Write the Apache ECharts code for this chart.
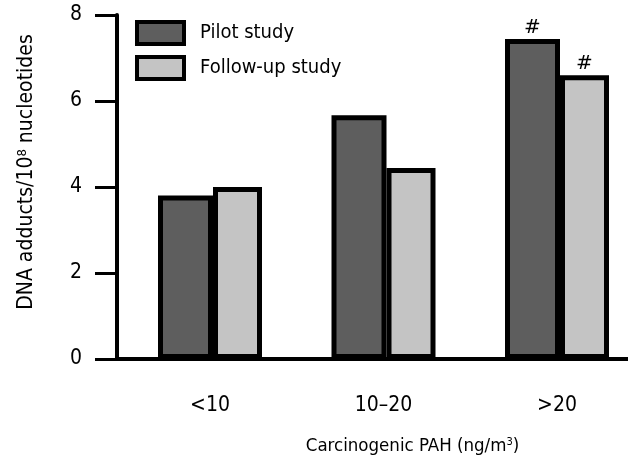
<!DOCTYPE html>
<html>
<head>
<meta charset="utf-8">
<script src="https://cdn.jsdelivr.net/npm/echarts@6/dist/echarts.min.js"></script>
<style>html,body{margin:0;padding:0;background:#fff}#c{width:628px;height:461px}</style>
</head>
<body>
<div id="c"></div>
<script>
var categories = ['<10', '10\u201320', '>20'];
var pilotStudy = [3.8, 5.67, 7.44];
var followUpStudy = [4.0, 4.44, 6.6];
var significanceMarks = ['', '', '#'];
var yTicks = [0, 2, 4, 6, 8];

var FONT = '"Liberation Sans Narrow", "DejaVu Sans Condensed", "Liberation Sans", sans-serif';

var chart = echarts.init(document.getElementById('c'));
function markLabel(p) { return significanceMarks[p.dataIndex]; }
chart.setOption({
  animation: false,
  backgroundColor: '#ffffff',
  textStyle: { fontFamily: FONT, color: '#000' },
  legend: {
    orient: 'vertical', left: 130, top: 15,
    itemWidth: 47, itemHeight: 22, itemGap: 9,
    icon: 'rect',
    itemStyle: { borderWidth: 4 },
    textStyle: { fontFamily: FONT, fontSize: 20, color: '#000', padding: [0, 0, 0, 11] },
    data: ['Pilot study', 'Follow-up study']
  },
  grid: [
    { left: 123.25, width: 520.5, top: 15, bottom: 102, outerBoundsMode: 'none', containLabel: false },
    { left: 117, right: 0, top: 15, bottom: 102, outerBoundsMode: 'none', containLabel: false }
  ],
  xAxis: [
    {
      type: 'category', gridIndex: 0, data: categories,
      axisLine: { show: false }, axisTick: { show: false },
      axisLabel: { fontFamily: FONT, fontSize: 21, color: '#000', margin: 36 },
      name: 'Carcinogenic PAH (ng/m{sup|3})',
      nameLocation: 'middle', nameGap: 78,
      nameTextStyle: {
        fontFamily: FONT, fontSize: 18.5, color: '#000', padding: [0, 0, 0, 58],
        rich: { sup: { fontFamily: FONT, fontSize: 11, color: '#000', verticalAlign: 'top', padding: [0, 0, 7, 0] } }
      }
    },
    {
      type: 'value', gridIndex: 1, min: 0, max: 1, offset: 2,
      axisLine: { show: true, lineStyle: { color: '#000', width: 4 } },
      axisTick: { show: false }, axisLabel: { show: false }, splitLine: { show: false }
    }
  ],
  yAxis: [
    { type: 'value', gridIndex: 0, min: 0, max: 8, show: false, splitLine: { show: false } },
    {
      type: 'value', gridIndex: 1, min: 0, max: 8, interval: 2,
      axisLine: { show: true, lineStyle: { color: '#000', width: 4 } },
      axisTick: { show: true, length: 22, lineStyle: { color: '#000', width: 3 } },
      axisLabel: { fontFamily: FONT, fontSize: 21, color: '#000', margin: 35,
        formatter: function (v) { return yTicks.indexOf(v) >= 0 ? String(v) : ''; } },
      splitLine: { show: false },
      name: 'DNA adducts/10{sup|8} nucleotides',
      nameLocation: 'middle', nameGap: 80,
      nameTextStyle: {
        fontFamily: FONT, fontSize: 21, color: '#000', padding: [0, 0, 0, 30],
        rich: { sup: { fontFamily: FONT, fontSize: 13, color: '#000', verticalAlign: 'top', padding: [0, 0, 8, 0] } }
      }
    }
  ],
  series: [
    {
      name: 'Pilot study', type: 'bar', xAxisIndex: 0, yAxisIndex: 0,
      data: pilotStudy, barWidth: 55, barGap: '0%',
      itemStyle: { color: '#5e5e5e', borderColor: '#000', borderWidth: 5 },
      label: { show: true, position: 'top', distance: 1, formatter: markLabel,
        fontFamily: 'DejaVu Sans', fontSize: 20, color: '#000' }
    },
    {
      name: 'Follow-up study', type: 'bar', xAxisIndex: 0, yAxisIndex: 0,
      data: followUpStudy, barWidth: 49, barGap: '0%',
      itemStyle: { color: '#c4c4c4', borderColor: '#000', borderWidth: 5 },
      label: { show: true, position: 'top', distance: 1, formatter: markLabel,
        fontFamily: 'DejaVu Sans', fontSize: 20, color: '#000' }
    }
  ]
});
</script>
</body>
</html>
